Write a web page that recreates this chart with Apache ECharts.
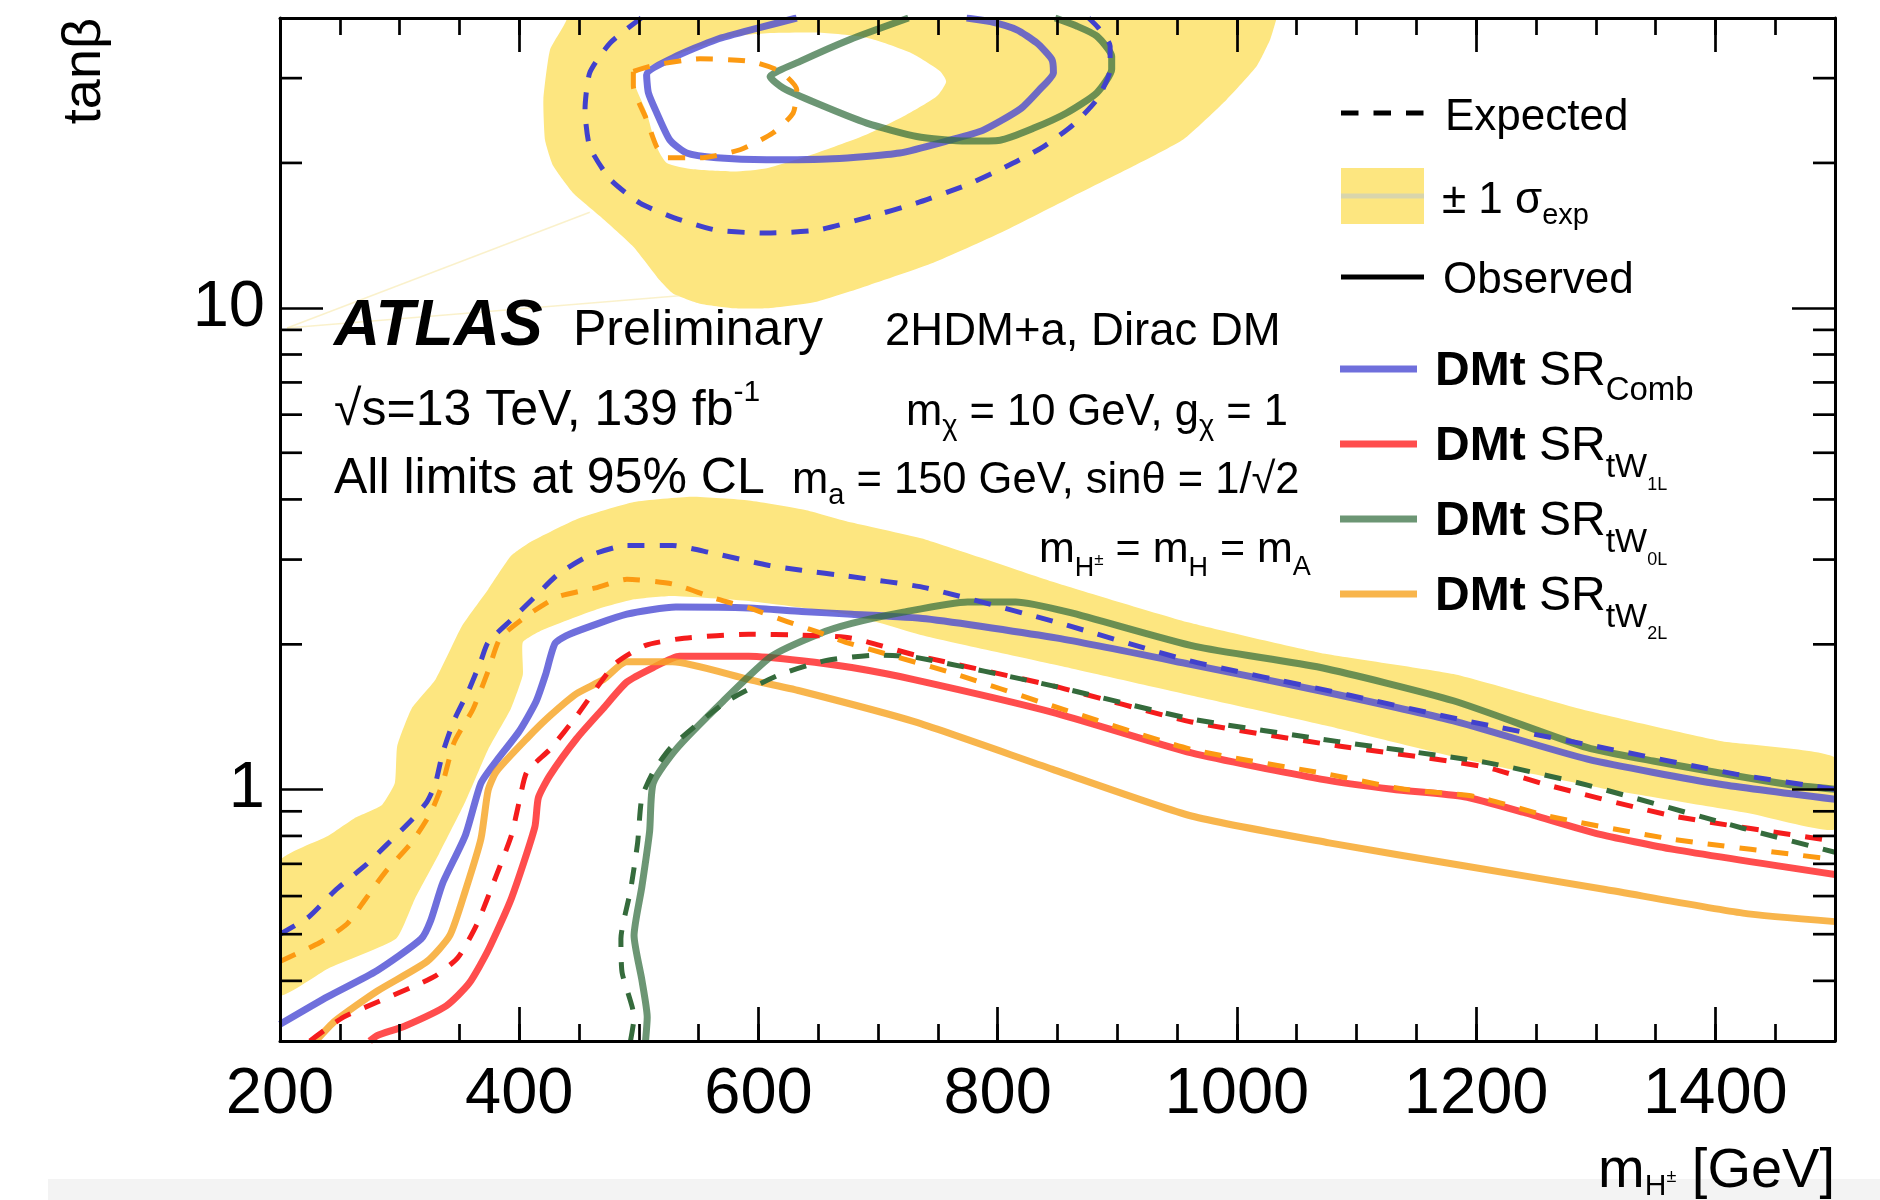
<!DOCTYPE html>
<html><head><meta charset="utf-8">
<script src="https://cdn.jsdelivr.net/npm/echarts@6/dist/echarts.min.js"></script>
<style>html,body{margin:0;padding:0;background:#fff}#c{width:1880px;height:1200px}</style>
</head><body><div id="c"></div>
<script>
const FONT = "'Liberation Sans', Arial, Helvetica, sans-serif";

// ---------- axis ticks / labels ----------
const xTickLabels = [200, 400, 600, 800, 1000, 1200, 1400];
const yTickLabels = [1, 10];
const yMinorTicks = [0.4, 0.5, 0.6, 0.7, 0.8, 0.9, 2, 3, 4, 5, 6, 7, 8, 9, 20, 30];

// ---------- +-1 sigma band (expected, combined) ----------
const bandLowUpperEdge = [[200,0.71],[240,0.80],[262,0.87],[285,0.926],[296,1.03],[298,1.23],[310,1.47],[330,1.69],[352,2.18],[374,2.60],[393,3.05],[410,3.27],[448,3.64],[496,3.95],[544,4.05],[592,3.98],[640,3.80],[678,3.58],[740,3.30],[850,2.68],[960,2.22],[1070,1.92],[1181,1.735],[1293,1.455],[1404,1.26],[1500,1.164]];
const bandLowLowerEdge = [[1500,0.826],[1430,0.89],[1310,1.0],[1190,1.155],[1075,1.355],[960,1.57],[850,1.81],[740,2.08],[678,2.30],[592,2.46],[528,2.52],[496,2.48],[464,2.36],[419,2.14],[403,2.02],[403,1.73],[393,1.47],[374,1.21],[355,0.943],[333,0.735],[313,0.594],[297,0.489],[240,0.424],[200,0.374]];
const bandHighOuter = [[430,45],[440,40],[425.8,34.4],[420.2,27.1],[421.6,22.3],[428.5,19.7],[445.2,17.3],[467.6,15.5],[495.4,13.4],[517.7,11.4],[528.8,10.7],[551.2,10.2],[579,9.98],[607,9.98],[648.7,10.3],[690.5,11.1],[746.2,12.4],[802,14.3],[857.8,16.8],[913.6,19.7],[955.4,22.4],[991.5,27.1],[1016.6,31.8],[1027.8,36.1],[1033.3,40],[1040,45]];
const bandHighHole = [[495.4,30.2],[517.7,32.5],[551.2,34.9],[579,36.6],[607,37.2],[648.7,37.3],[690.5,36.4],[726.8,33.9],[751.8,31.0],[756.9,29.5],[749,27.5],[724,25.2],[690.5,22.9],[648.7,20.97],[607,19.5],[579,19.2],[545.6,19.4],[523.3,20.0],[514.9,21.6],[506.6,25.4]];
const bandSliverA = [[205.9,9.08],[459,15.8]];
const bandSliverB = [[205.9,9.08],[534,10.6]];

// ---------- DMt SR_Comb ----------
const combObsLow = [[200,0.325],[240,0.371],[281,0.42],[318,0.489],[326,0.534],[336,0.638],[355,0.803],[368,1.03],[381,1.146],[400,1.32],[414,1.52],[422,1.73],[430,2.01],[442,2.10],[490,2.31],[531,2.39],[592,2.38],[636,2.34],[678,2.31],[740,2.26],[850,2.06],[960,1.82],[1070,1.60],[1181,1.387],[1293,1.155],[1404,1.024],[1500,0.953]];
const combObsHigh = [[632,40],[601,38.2],[565,36.1],[529,33.1],[506.5,30.5],[508,27.95],[515,25.4],[526,22.3],[540,20.97],[565,20.5],[607,20.3],[662,20.4],[718,20.97],[760,22.3],[788,23.4],[819,25.9],[835,28.4],[846.6,30.8],[845.3,32.8],[832.7,35.5],[816,37.8],[794,39.3],[774,40]];
const combExpLow = [[200,0.50],[224,0.543],[246,0.616],[272,0.697],[288,0.762],[310,0.863],[323,0.943],[330,1.03],[336,1.19],[345.5,1.39],[358,1.61],[368,1.85],[374,2.02],[393.5,2.25],[413,2.51],[432,2.79],[457.6,3.05],[490,3.21],[528,3.21],[560,3.10],[608,2.92],[636,2.85],[675,2.77],[740,2.62],[850,2.22],[960,1.85],[1083,1.59],[1192,1.387],[1306,1.22],[1418,1.074],[1500,1.0]];
const combExpHigh = [[502,40],[476,35.5],[459,30.8],[455,25.8],[459,21.6],[476,18.5],[501,16.5],[529,15.4],[565,14.5],[607,14.3],[649,14.5],[690.5,15.4],[732,16.5],[774,18.0],[808,19.7],[838,21.6],[863,24.0],[883,27.1],[894,31.3],[894,35.0],[884,38.2],[876,40]];

// ---------- DMt SR_tW1L ----------
const tw1lObs = [[275,0.3],[281.4,0.308],[304,0.322],[339,0.355],[358,0.395],[374,0.463],[393.5,0.594],[413,0.834],[416,0.96],[425.6,1.068],[448,1.275],[470,1.47],[490,1.67],[512,1.79],[534,1.89],[592,1.89],[636,1.85],[678,1.79],[730,1.69],[846,1.445],[962,1.19],[1070,1.05],[1130,1.0],[1190,0.965],[1240,0.895],[1300,0.81],[1365,0.75],[1500,0.665]];
const tw1lExp = [[225,0.3],[252.7,0.336],[281,0.361],[310,0.388],[329.6,0.409],[348.7,0.447],[364.7,0.525],[380.7,0.661],[393.5,0.803],[400,0.943],[406.4,1.087],[425.6,1.21],[448,1.42],[480,1.82],[505.6,1.99],[537.7,2.06],[592,2.10],[636,2.09],[678,2.06],[731,1.90],[846,1.64],[962,1.38],[1085,1.23],[1150,1.17],[1209,1.11],[1260,1.02],[1365,0.88],[1500,0.78]];

// ---------- DMt SR_tW0L ----------
const tw0lObsLow = [[505.6,0.3],[507,0.336],[502.5,0.402],[496,0.497],[502.5,0.627],[509,0.818],[512,1.03],[531,1.21],[570,1.52],[611,1.89],[650,2.10],[678,2.21],[720,2.33],[775,2.45],[815,2.45],[860,2.33],[965,1.98],[1070,1.79],[1181,1.527],[1293,1.22],[1348,1.145],[1460,1.024],[1500,1.0]];
const tw0lObsHigh = [[725.4,40],[676.6,36.1],[634.8,32.5],[609.7,30.2],[620.8,28.6],[648.7,26.6],[690.5,24.2],[732.3,22.7],[774,22.2],[802,22.3],[829.7,23.6],[857.6,25.4],[882.8,27.95],[895.3,31.3],[895.3,33.3],[882.8,36.7],[866,38.5],[848,40]];
const tw0lExp = [[493,0.3],[496,0.336],[486,0.416],[485,0.489],[493,0.616],[499,0.775],[502.5,0.96],[512,1.087],[528,1.23],[573,1.52],[617.7,1.73],[656,1.85],[700,1.90],[731,1.88],[846,1.64],[962,1.40],[1085,1.256],[1209,1.136],[1293,1.02],[1423,0.83],[1500,0.74]];

// ---------- DMt SR_tW2L ----------
const tw2lObs = [[230,0.3],[246,0.33],[281.4,0.381],[323,0.439],[342,0.497],[355,0.616],[368,0.789],[374,0.995],[380.7,1.087],[406.4,1.275],[425.6,1.42],[448,1.58],[470.4,1.69],[489.7,1.84],[528,1.84],[592,1.69],[635,1.60],[731,1.38],[846,1.10],[962,0.88],[1077,0.774],[1192,0.692],[1308,0.619],[1423,0.553],[1500,0.531]];
const tw2lExpLow = [[200,0.439],[233,0.48],[256,0.525],[272,0.594],[288,0.673],[310,0.775],[326,0.894],[336,1.03],[345.5,1.25],[361.5,1.47],[374,1.76],[384,2.06],[406,2.29],[432,2.51],[464,2.62],[490,2.73],[528,2.67],[566.5,2.48],[592,2.38],[624,2.23],[650,2.12],[673,2.02],[760,1.75],[846,1.49],[962,1.21],[1077,1.074],[1140,1.0],[1200,0.965],[1260,0.88],[1365,0.787],[1500,0.715]];
const tw2lExpHigh = [[495.4,31.0],[514.9,32.0],[551.2,32.9],[593,32.5],[618,31.0],[632,28.4],[629,25.4],[612.3,23.1],[584.6,21.3],[551.2,20.5],[523.3,20.5],[514.9,21.6],[506.5,24.6],[495.4,28.9],[495.4,31.0]];

// ---------- styles ----------
const C = {
  band: '#fde680',
  combObs: '#4b4bd3', combExp: '#4141cd',
  tw1lObs: '#ff2e2e', tw1lExp: '#f51c1c',
  tw0lObs: '#336e3f', tw0lExp: '#356b3c',
  tw2lObs: '#f7a524', tw2lExp: '#fc9a12'
};
const DASH = [17, 15];

function lineSeries(name, data, color, o) {
  return {
    type: 'line', name, data, xAxisIndex: 0, yAxisIndex: 0,
    showSymbol: false, symbol: 'none', smooth: o.smooth == null ? 0.2 : o.smooth,
    silent: true, clip: true, z: o.z, animation: false,
    lineStyle: { color, width: o.width, type: o.dash ? DASH : 'solid', opacity: o.opacity == null ? 1 : o.opacity, cap: 'butt', join: 'round' }
  };
}
function polySeries(name, rings, z) {
  return {
    type: 'custom', name, coordinateSystem: 'cartesian2d', xAxisIndex: 0, yAxisIndex: 0,
    silent: true, z, animation: false, data: [[200, 1]],
    renderItem: (params, api) => {
      const cs = params.coordSys;
      return {
        type: 'group',
        clipPath: { type: 'rect', shape: { x: cs.x, y: cs.y, width: cs.width, height: cs.height } },
        children: rings.map(r => ({
          type: r.line ? 'polyline' : 'polygon',
          shape: { points: r.pts.map(p => api.coord(p)), smooth: r.smooth || 0 },
          style: r.line ? { stroke: r.color, lineWidth: r.width, fill: null, opacity: r.opacity || 1 } : { fill: r.color }
        }))
      };
    }
  };
}
const minorTickSeries = {
  type: 'custom', name: 'minor ticks', coordinateSystem: 'cartesian2d', xAxisIndex: 0, yAxisIndex: 0,
  silent: true, z: 20, animation: false, data: [[200, 1]],
  renderItem: (params, api) => {
    const ch = [];
    yMinorTicks.forEach(v => {
      const l = api.coord([200, v]), r = api.coord([1500, v]);
      ch.push({ type: 'line', shape: { x1: l[0], y1: l[1], x2: l[0] + 22, y2: l[1] }, style: { stroke: '#000', lineWidth: 2.7 } });
      ch.push({ type: 'line', shape: { x1: r[0] - 22, y1: r[1], x2: r[0], y2: r[1] }, style: { stroke: '#000', lineWidth: 2.7 } });
    });
    return { type: 'group', children: ch };
  }
};

// ---------- text helpers ----------
const mctx = document.createElement('canvas').getContext('2d');
function fontStr(f) { return (f.italic ? 'italic ' : '') + (f.bold ? 'bold ' : '') + f.size + 'px ' + FONT; }
function textRun(frags, x, baseline, alignRight) {
  const w = frags.map(f => { mctx.font = fontStr(f); return mctx.measureText(f.t).width; });
  let cx = alignRight ? x - w.reduce((a, b) => a + b, 0) : x;
  return frags.map((f, i) => {
    const el = {
      type: 'text', x: cx, y: baseline + (f.dy || 0) - 0.276 * f.size, z: 100,
      style: { text: f.t, font: fontStr(f), fill: '#000', textAlign: 'left', verticalAlign: 'middle', textVerticalAlign: 'middle' }
    };
    cx += w[i];
    return el;
  });
}
const els = [];
// background strip at bottom
els.push({ type: 'rect', shape: { x: 48, y: 1179, width: 1832, height: 21 }, style: { fill: '#f3f3f3' }, z: -10 });
// labels inside the frame
els.push(...textRun([{ t: 'ATLAS', size: 64, bold: true, italic: true }], 334, 345));
els.push(...textRun([{ t: 'Preliminary', size: 50 }], 573, 345));
els.push(...textRun([{ t: '√s=13 TeV, 139 fb', size: 50 }, { t: '-1', size: 30, dy: -24 }], 334, 425));
els.push(...textRun([{ t: 'All limits at 95% CL', size: 50 }], 334, 493));
els.push(...textRun([{ t: '2HDM+a, Dirac DM', size: 45.5 }], 885, 345));
els.push(...textRun([{ t: 'm', size: 43.5 }, { t: 'χ', size: 29, dy: 10 }, { t: ' = 10 GeV, g', size: 43.5 }, { t: 'χ', size: 29, dy: 10 }, { t: ' = 1', size: 43.5 }], 906, 425));
els.push(...textRun([{ t: 'm', size: 43.5 }, { t: 'a', size: 29, dy: 11 }, { t: ' = 150 GeV, sinθ = 1/√2', size: 43.5 }], 792, 493));
els.push(...textRun([{ t: 'm', size: 43 }, { t: 'H', size: 27, dy: 14 }, { t: '±', size: 17, dy: 3 }, { t: ' = m', size: 43 }, { t: 'H', size: 27, dy: 14 }, { t: ' = m', size: 43 }, { t: 'A', size: 27, dy: 13 }], 1039, 562));
// legend
els.push({ type: 'line', shape: { x1: 1341, y1: 113, x2: 1424, y2: 113 }, style: { stroke: '#000', lineWidth: 5, lineDash: [17.5, 15] }, z: 100 });
els.push(...textRun([{ t: 'Expected', size: 44 }], 1445, 130));
els.push({ type: 'rect', shape: { x: 1341, y: 168, width: 83, height: 56 }, style: { fill: C.band }, z: 100 });
els.push({ type: 'line', shape: { x1: 1341, y1: 196, x2: 1424, y2: 196 }, style: { stroke: '#d9d5ab', lineWidth: 5 }, z: 101 });
els.push(...textRun([{ t: '± 1 σ', size: 44 }, { t: 'exp', size: 29, dy: 11 }], 1442, 213));
els.push({ type: 'line', shape: { x1: 1341, y1: 277, x2: 1424, y2: 277 }, style: { stroke: '#000', lineWidth: 5 }, z: 100 });
els.push(...textRun([{ t: 'Observed', size: 44 }], 1443, 293));
const legRows = [
  { y: 369, base: 385, color: C.combObs, op: 0.8, sub: [{ t: 'Comb', size: 33, dy: 15 }] },
  { y: 444, base: 460.5, color: C.tw1lObs, op: 0.85, sub: [{ t: 'tW', size: 34, dy: 17 }, { t: '1L', size: 18, dy: 29 }] },
  { y: 519, base: 535.5, color: C.tw0lObs, op: 0.72, sub: [{ t: 'tW', size: 34, dy: 17 }, { t: '0L', size: 18, dy: 29 }] },
  { y: 594, base: 610, color: C.tw2lObs, op: 0.82, sub: [{ t: 'tW', size: 34, dy: 17 }, { t: '2L', size: 18, dy: 29 }] }
];
legRows.forEach(r => {
  els.push({ type: 'line', shape: { x1: 1340, y1: r.y, x2: 1417, y2: r.y }, style: { stroke: r.color, lineWidth: 7, opacity: r.op }, z: 100 });
  els.push(...textRun([{ t: 'DMt', size: 48, bold: true }, { t: ' SR', size: 48 }].concat(r.sub), 1435, r.base));
});
// axis titles
els.push(...textRun([{ t: 'm', size: 56 }, { t: 'H', size: 30, dy: 8 }, { t: '±', size: 18, dy: -5 }, { t: ' [GeV]', size: 56 }], 1835, 1187, true));
els.push({ type: 'text', x: 85, y: 18, rotation: Math.PI / 2, z: 100,
  style: { text: 'tanβ', font: '54px ' + FONT, fill: '#000', textAlign: 'right', verticalAlign: 'middle', textVerticalAlign: 'middle' } });

const axLine = { show: true, onZero: false, lineStyle: { color: '#000', width: 3 } };
const tickStyle = { color: '#000', width: 2.7 };
function xAx(pos, interval, len, labels, line) {
  return {
    type: 'value', min: 200, max: 1500, interval, position: pos, z: 20,
    axisLine: line ? axLine : { show: false, onZero: false },
    axisTick: { show: true, inside: true, length: len, lineStyle: tickStyle },
    axisLabel: labels ? { show: true, fontSize: 65, fontFamily: FONT, color: '#000', margin: 22, showMaxLabel: false,
      formatter: v => xTickLabels.indexOf(Math.round(v)) >= 0 ? String(Math.round(v)) : '' } : { show: false },
    splitLine: { show: false }
  };
}
function yAx(pos, labels) {
  return {
    type: 'log', logBase: 10, min: 0.3, max: 40, position: pos, z: 20,
    axisLine: axLine,
    axisTick: { show: true, inside: true, length: 43, lineStyle: tickStyle },
    axisLabel: labels ? { show: true, fontSize: 65, fontFamily: FONT, color: '#000', margin: 15, showMinLabel: false, showMaxLabel: false,
      formatter: v => { const m = yTickLabels.find(t => Math.abs(t - v) < 1e-6 * t); return m ? String(m) : ''; } } : { show: false },
    splitLine: { show: false }, minorTick: { show: false }
  };
}

const series = [
  polySeries('band', [
    { pts: bandLowUpperEdge.concat(bandLowLowerEdge), color: C.band, smooth: 0.15 },
    { pts: bandHighOuter, color: C.band, smooth: 0.15 },
    { pts: bandHighHole, color: '#ffffff', smooth: 0.2 },
    { pts: bandSliverA, line: true, color: '#f6e7a8', width: 1.5, opacity: 0.6 },
    { pts: bandSliverB, line: true, color: '#f6e7a8', width: 1.5, opacity: 0.6 }
  ], 1),
  lineSeries('SR_Comb observed', combObsLow, C.combObs, { width: 7, opacity: 0.8, z: 3 }),
  lineSeries('SR_Comb observed (high)', combObsHigh, C.combObs, { width: 7, opacity: 0.8, z: 3 }),
  lineSeries('SR_tW1L observed', tw1lObs, C.tw1lObs, { width: 7, opacity: 0.85, z: 3 }),
  lineSeries('SR_tW2L observed', tw2lObs, C.tw2lObs, { width: 7, opacity: 0.82, z: 3 }),
  lineSeries('SR_tW0L observed', tw0lObsLow, C.tw0lObs, { width: 7, opacity: 0.72, z: 3 }),
  lineSeries('SR_tW0L observed (high)', tw0lObsHigh, C.tw0lObs, { width: 7, opacity: 0.72, z: 3 }),
  lineSeries('SR_Comb expected', combExpLow, C.combExp, { width: 5, dash: true, z: 4 }),
  lineSeries('SR_Comb expected (high)', combExpHigh, C.combExp, { width: 5, dash: true, z: 4 }),
  lineSeries('SR_tW1L expected', tw1lExp, C.tw1lExp, { width: 5, dash: true, z: 4 }),
  lineSeries('SR_tW0L expected', tw0lExp, C.tw0lExp, { width: 5, dash: true, z: 4 }),
  lineSeries('SR_tW2L expected', tw2lExpLow, C.tw2lExp, { width: 5, dash: true, z: 4 }),
  lineSeries('SR_tW2L expected (high)', tw2lExpHigh, C.tw2lExp, { width: 5, dash: true, z: 4 }),
  minorTickSeries
];

const chart = echarts.init(document.getElementById('c'), null, { renderer: 'canvas', width: 1880, height: 1200 });
chart.setOption({
  animation: false,
  backgroundColor: '#ffffff',
  grid: { left: 280, top: 18, width: 1555, height: 1023, containLabel: false },
  xAxis: [xAx('bottom', 200, 34, true, true), xAx('bottom', 50, 17, false, false), xAx('top', 200, 34, false, true), xAx('top', 50, 17, false, false)],
  yAxis: [yAx('left', true), yAx('right', false)],
  series,
  graphic: { elements: els }
});
</script></body></html>
